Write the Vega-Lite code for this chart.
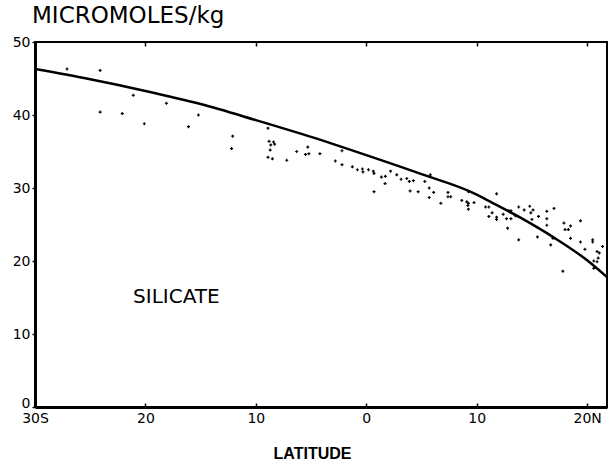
{
  "$schema": "https://vega.github.io/schema/vega-lite/v6.json",
  "width": 572,
  "height": 365,
  "autosize": {"type": "none"},
  "padding": {"left": 35, "top": 42, "right": 1, "bottom": 59},
  "background": "white",
  "config": {
    "view": {"stroke": "black", "strokeWidth": 2},
    "font": "DejaVu Sans"
  },
  "title": {
    "text": "MICROMOLES/kg",
    "anchor": "start",
    "frame": "group",
    "font": "DejaVu Sans",
    "fontSize": 23,
    "fontWeight": "normal",
    "color": "black",
    "offset": 7,
    "dx": -3
  },
  "datasets": {
    "points": [
      {"lat": -27.1, "si": 46.3}, {"lat": -24.1, "si": 46.1}, {"lat": -24.1, "si": 40.4},
      {"lat": -22.1, "si": 40.2}, {"lat": -21.1, "si": 42.7}, {"lat": -20.1, "si": 38.8},
      {"lat": -18.1, "si": 41.6}, {"lat": -16.1, "si": 38.4}, {"lat": -15.2, "si": 40.0},
      {"lat": -12.1, "si": 37.1}, {"lat": -12.2, "si": 35.4}, {"lat": -8.9, "si": 38.2},
      {"lat": -8.8, "si": 36.4}, {"lat": -8.4, "si": 36.3}, {"lat": -8.3, "si": 36.0},
      {"lat": -8.65, "si": 35.9}, {"lat": -8.7, "si": 35.2}, {"lat": -8.9, "si": 34.2},
      {"lat": -8.5, "si": 34.0}, {"lat": -7.2, "si": 33.8}, {"lat": -6.3, "si": 35.0},
      {"lat": -5.3, "si": 35.6}, {"lat": -5.5, "si": 34.6}, {"lat": -5.2, "si": 34.7},
      {"lat": -4.2, "si": 34.7}, {"lat": -2.2, "si": 35.1}, {"lat": -2.8, "si": 33.7},
      {"lat": -2.2, "si": 33.2}, {"lat": -1.26, "si": 32.9}, {"lat": -0.8, "si": 32.5},
      {"lat": -0.35, "si": 32.6}, {"lat": -0.3, "si": 32.2}, {"lat": 0.2, "si": 32.5},
      {"lat": 0.64, "si": 32.3}, {"lat": 0.7, "si": 32.0}, {"lat": 0.7, "si": 29.5},
      {"lat": 1.37, "si": 31.5}, {"lat": 1.73, "si": 31.6}, {"lat": 1.7, "si": 30.6},
      {"lat": 2.2, "si": 32.3}, {"lat": 2.76, "si": 31.8}, {"lat": 3.15, "si": 31.2},
      {"lat": 3.67, "si": 31.3}, {"lat": 3.9, "si": 30.9}, {"lat": 4.27, "si": 31.0},
      {"lat": 3.97, "si": 29.6}, {"lat": 4.7, "si": 29.5}, {"lat": 5.3, "si": 30.9},
      {"lat": 5.8, "si": 31.8}, {"lat": 5.7, "si": 30.0}, {"lat": 6.1, "si": 29.4},
      {"lat": 5.7, "si": 28.7}, {"lat": 6.75, "si": 27.9}, {"lat": 7.4, "si": 29.4},
      {"lat": 7.4, "si": 28.8}, {"lat": 7.65, "si": 28.8}, {"lat": 8.65, "si": 28.3},
      {"lat": 9.1, "si": 28.1}, {"lat": 9.25, "si": 27.9}, {"lat": 9.2, "si": 27.6},
      {"lat": 9.25, "si": 27.1}, {"lat": 9.76, "si": 28.0}, {"lat": 9.25, "si": 29.5},
      {"lat": 10.8, "si": 27.4}, {"lat": 11.1, "si": 27.4}, {"lat": 11.4, "si": 26.6},
      {"lat": 11.1, "si": 26.1}, {"lat": 11.8, "si": 29.2}, {"lat": 11.8, "si": 26.0},
      {"lat": 11.8, "si": 25.7}, {"lat": 12.4, "si": 26.4}, {"lat": 12.7, "si": 25.8},
      {"lat": 12.9, "si": 26.9}, {"lat": 13.1, "si": 26.9}, {"lat": 13.1, "si": 25.8},
      {"lat": 13.5, "si": 26.2}, {"lat": 12.8, "si": 24.5}, {"lat": 13.8, "si": 27.4},
      {"lat": 13.8, "si": 22.9}, {"lat": 14.3, "si": 27.0}, {"lat": 14.8, "si": 27.5},
      {"lat": 14.9, "si": 26.6}, {"lat": 15.1, "si": 27.0}, {"lat": 15.0, "si": 25.7},
      {"lat": 15.6, "si": 26.1}, {"lat": 15.5, "si": 24.6}, {"lat": 15.5, "si": 23.3},
      {"lat": 16.35, "si": 26.8}, {"lat": 16.35, "si": 25.8}, {"lat": 16.35, "si": 24.9},
      {"lat": 17.0, "si": 27.2}, {"lat": 16.7, "si": 22.2}, {"lat": 16.9, "si": 23.1},
      {"lat": 17.8, "si": 18.6}, {"lat": 17.9, "si": 25.2}, {"lat": 18.0, "si": 24.3},
      {"lat": 18.3, "si": 24.3}, {"lat": 18.5, "si": 24.8}, {"lat": 18.5, "si": 23.1},
      {"lat": 19.4, "si": 25.5}, {"lat": 19.4, "si": 22.6}, {"lat": 19.8, "si": 21.6},
      {"lat": 20.5, "si": 22.9}, {"lat": 20.5, "si": 22.6}, {"lat": 20.9, "si": 21.3},
      {"lat": 21.1, "si": 21.1}, {"lat": 21.0, "si": 20.4}, {"lat": 20.9, "si": 19.9},
      {"lat": 20.6, "si": 20.0}, {"lat": 21.4, "si": 22.0}, {"lat": 20.6, "si": 19.0}
    ],
    "curve": [
      {"lat": -30, "si": 46.3}, {"lat": -25, "si": 44.9}, {"lat": -20, "si": 43.3},
      {"lat": -15, "si": 41.5}, {"lat": -10, "si": 39.3}, {"lat": -5, "si": 37.0},
      {"lat": 0, "si": 34.5}, {"lat": 5, "si": 31.9}, {"lat": 10, "si": 29.1},
      {"lat": 11, "si": 28.3}, {"lat": 14, "si": 25.9}, {"lat": 17, "si": 23.2},
      {"lat": 20, "si": 20.1}, {"lat": 21.8, "si": 17.8}
    ],
    "label": [{"lat": -17.2, "si": 14.25, "text": "SILICATE"}]
  },
  "layer": [
    {
      "data": {"name": "curve"},
      "mark": {"type": "line", "color": "black", "strokeWidth": 2.5, "interpolate": "monotone", "clip": true},
      "encoding": {
        "x": {
          "field": "lat", "type": "quantitative",
          "scale": {"domain": [-30, 21.8], "nice": false, "zero": false},
          "axis": {
            "orient": "bottom",
            "values": [-30, -20, -10, 0, 10, 20],
            "labelExpr": "datum.value == -30 ? '30S' : datum.value == 20 ? '20N' : format(abs(datum.value), 'd')",
            "labelFont": "DejaVu Sans", "labelFontSize": 14, "labelColor": "black",
            "labelPadding": 8, "labelFlush": false, "labelOverlap": false,
            "tickSize": -4, "tickColor": "black", "tickWidth": 1.5,
            "domainColor": "black", "domainWidth": 3, "grid": false,
            "title": "LATITUDE", "titleFont": "Liberation Sans", "titleFontSize": 16,
            "titleFontWeight": "bold", "titleColor": "black",
            "titleX": 277, "titleY": 51, "titleBaseline": "alphabetic", "titleAnchor": null
          }
        },
        "y": {
          "field": "si", "type": "quantitative",
          "scale": {"domain": [0, 50], "nice": false},
          "axis": {
            "values": [0, 10, 20, 30, 40, 50],
            "labelFont": "DejaVu Sans", "labelFontSize": 14, "labelColor": "black",
            "labelPadding": 2, "labelFlush": false, "labelOverlap": false,
            "labelBaseline": {"condition": {"test": "datum.value == 0", "value": "alphabetic"}, "value": "middle"},
            "tickSize": 3, "tickColor": "black", "tickWidth": 1.5,
            "domainColor": "black", "domainWidth": 3, "grid": false, "title": null
          }
        }
      }
    },
    {
      "data": {"name": "curve"},
      "mark": {"type": "rule", "opacity": 0},
      "encoding": {
        "x": {
          "field": "lat", "type": "quantitative",
          "axis": {
            "orient": "top", "values": [-20, -10, 0, 10, 20], "labels": false,
            "tickSize": -4, "tickColor": "black", "tickWidth": 1.5,
            "domain": false, "grid": false, "title": null
          }
        }
      }
    },
    {
      "data": {"name": "points"},
      "mark": {"type": "point", "shape": "cross", "filled": true, "color": "black", "size": 9, "opacity": 1},
      "encoding": {
        "x": {"field": "lat", "type": "quantitative", "axis": null},
        "y": {"field": "si", "type": "quantitative"}
      }
    },
    {
      "data": {"name": "label"},
      "mark": {"type": "text", "font": "DejaVu Sans", "fontSize": 20, "color": "black", "align": "center", "baseline": "alphabetic"},
      "encoding": {
        "x": {"field": "lat", "type": "quantitative", "axis": null},
        "y": {"field": "si", "type": "quantitative"},
        "text": {"field": "text"}
      }
    }
  ],
  "resolve": {"axis": {"x": "independent"}}
}
